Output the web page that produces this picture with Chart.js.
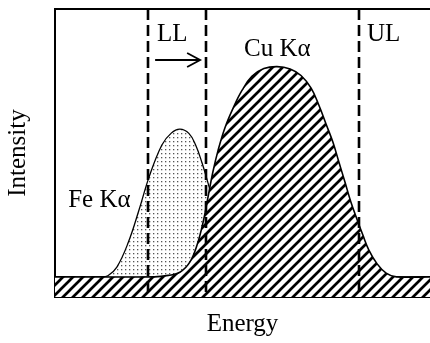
<!DOCTYPE html>
<html>
<head>
<meta charset="utf-8">
<script src="https://cdn.jsdelivr.net/npm/chart.js@4.4.1/dist/chart.umd.min.js"></script>
<style>
  html, body { margin: 0; padding: 0; background: #fff; }
  canvas { display: block; }
</style>
</head>
<body>
<canvas id="spectrum" width="430" height="343"></canvas>
<script>
// Fe Ka peak (energy, intensity) - arbitrary units
const feEnergy = [0, 12, 14.1, 16.5, 19.5, 22.4, 25.1, 28.5, 31, 33.3, 35.7, 37.5, 39.2, 40.6, 41.6, 42.9, 44.5, 46.1, 48, 100];
const feCounts = [7, 7, 7.4, 10.4, 18.8, 30.2, 41.7, 52.8, 56.9, 58.3, 56.8, 52.8, 46.6, 40.5, 35.8, 28.5, 18.1, 10.1, 7, 7];

// Cu Ka peak
const cuEnergy = [0, 26.5, 30.2, 33.3, 36, 37.9, 39.5, 40.8, 42.1, 43.5, 45.3, 47.5, 49.9, 52.5, 55.7, 59.2, 62.7, 65.6, 68.3, 70.4, 72.3, 74.1, 75.7, 77.3, 78.9, 80.5, 82.1, 83.7, 85.9, 88.3, 91, 100];
const cuCounts = [7, 7, 7.5, 8.6, 12.2, 18.1, 26, 34.7, 43.4, 51, 58.7, 65.6, 71.8, 76.6, 79.3, 80, 79.2, 76.9, 72.5, 66.5, 60, 53.8, 46.9, 40, 33, 27.1, 21.5, 16.3, 11.5, 8.3, 7, 7];

// continuum under both peaks
const background = 7;

// lower limit (before and after shift) and upper limit of the window
const limits = [24.8, 40.3, 81.1];

const serif = '"Liberation Serif", "Times New Roman", serif';

function hatchPattern() {
    const c = document.createElement('canvas');
    c.width = c.height = 10;
    const g = c.getContext('2d');
    g.fillStyle = '#fff';
    g.fillRect(0, 0, 10, 10);
    g.strokeStyle = '#000';
    g.lineWidth = 2.7;
    g.beginPath();
    g.moveTo(-2, 12); g.lineTo(12, -2);
    g.moveTo(-7, 7); g.lineTo(7, -7);
    g.moveTo(3, 17); g.lineTo(17, 3);
    g.stroke();
    return g.createPattern(c, 'repeat');
}

function dotPattern() {
    const c = document.createElement('canvas');
    c.width = c.height = 4;
    const g = c.getContext('2d');
    g.fillStyle = '#fff';
    g.fillRect(0, 0, 4, 4);
    g.fillStyle = '#555';
    g.fillRect(1, 1, 1.3, 1.3);
    return g.createPattern(c, 'repeat');
}

const pts = (xs, ys) => xs.map((x, i) => ({ x: x, y: ys[i] }));

// frame, limit lines, arrow and peak labels
const annotations = {
    id: 'annotations',
    afterDatasetsDraw(chart) {
        const { ctx, chartArea: area, scales: { x, y } } = chart;
        ctx.save();
        ctx.strokeStyle = '#000';

        ctx.lineWidth = 2;
        ctx.beginPath();
        ctx.moveTo(area.left - 1, area.top);
        ctx.lineTo(area.right, area.top);
        ctx.stroke();

        ctx.lineWidth = 2.6;
        ctx.setLineDash([11, 5]);
        limits.forEach(v => {
            const px = Math.round(x.getPixelForValue(v));
            ctx.beginPath();
            ctx.moveTo(px, area.top);
            ctx.lineTo(px, area.bottom);
            ctx.stroke();
        });
        ctx.setLineDash([]);

        // shift arrow
        const ay = y.getPixelForValue(82.3);
        const ax0 = x.getPixelForValue(26.7), ax1 = x.getPixelForValue(38.7);
        ctx.lineWidth = 1.8;
        ctx.beginPath();
        ctx.moveTo(ax0, ay);
        ctx.lineTo(ax1, ay);
        ctx.moveTo(ax1 - 13, ay - 7);
        ctx.lineTo(ax1, ay);
        ctx.lineTo(ax1 - 13, ay + 7);
        ctx.stroke();

        ctx.fillStyle = '#000';
        ctx.font = '25px ' + serif;
        ctx.textBaseline = 'alphabetic';
        ctx.textAlign = 'left';
        ctx.fillText('LL', x.getPixelForValue(27.2), y.getPixelForValue(88.9));
        ctx.fillText('UL', x.getPixelForValue(83.2), y.getPixelForValue(88.9));
        ctx.fillText('Cu K\u03b1', x.getPixelForValue(50.4), y.getPixelForValue(83.7));
        ctx.fillText('Fe K\u03b1', x.getPixelForValue(3.5), y.getPixelForValue(31.25));
        ctx.restore();
    }
};

const ctx = document.getElementById('spectrum').getContext('2d');
const chart = new Chart(ctx, {
    type: 'line',
    data: {
        datasets: [{
            label: 'Cu K\u03b1',
            data: pts(cuEnergy, cuCounts),
            borderColor: '#000',
            borderWidth: 1.6,
            backgroundColor: hatchPattern(),
            fill: 'origin',
            pointRadius: 0,
            tension: 0.4
        }, {
            label: 'Fe K\u03b1',
            data: pts(feEnergy, feCounts),
            borderColor: '#000',
            borderWidth: 1.3,
            backgroundColor: dotPattern(),
            fill: { value: background },
            pointRadius: 0,
            tension: 0.4
        }, {
            label: 'Background',
            data: [{ x: 0, y: background }, { x: 100, y: background }],
            borderColor: '#000',
            borderWidth: 1.3,
            backgroundColor: hatchPattern(),
            fill: 'origin',
            pointRadius: 0
        }]
    },
    options: {
        responsive: false,
        animation: false,
        devicePixelRatio: 1,
        layout: { padding: { top: 9, right: 0, left: 0, bottom: 0 } },
        scales: {
            x: {
                type: 'linear',
                min: 0,
                max: 100,
                grid: { display: false },
                ticks: { display: false },
                border: { display: true, color: '#000', width: 2 },
                title: {
                    display: true,
                    text: 'Energy',
                    color: '#000',
                    font: { family: serif, size: 25 },
                    padding: { top: 0, bottom: 4 }
                },
                afterFit(scale) { scale.height = 46; }
            },
            y: {
                min: 0,
                max: 100,
                grid: { display: false },
                ticks: { display: false },
                border: { display: true, color: '#000', width: 2 },
                title: {
                    display: true,
                    text: 'Intensity',
                    color: '#000',
                    font: { family: serif, size: 25 },
                    padding: { top: 3, bottom: 0 }
                },
                afterFit(scale) { scale.width = 55; }
            }
        },
        plugins: {
            legend: { display: false },
            tooltip: { enabled: false }
        }
    },
    plugins: [annotations]
});
</script>
</body>
</html>
